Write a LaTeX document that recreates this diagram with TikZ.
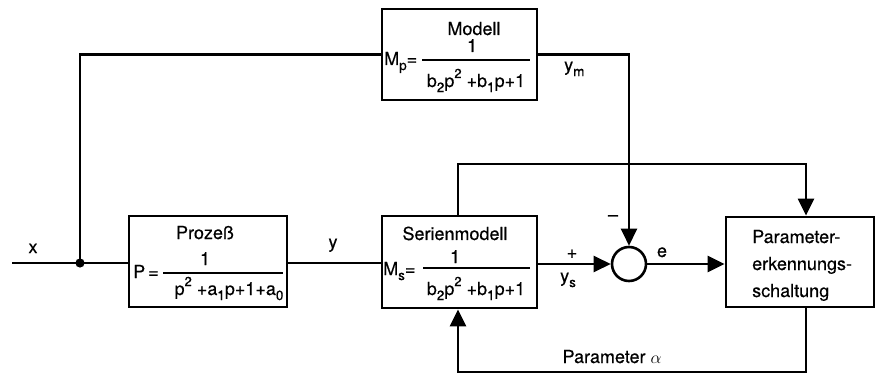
\documentclass[tikz,border=0pt]{standalone}
\usepackage{fontspec}
\setmainfont[FakeBold=0.4]{TeX Gyre Heros}
\usetikzlibrary{arrows.meta}
\newcommand\mysb[1]{\raisebox{-0.28em}{\fontsize{13.5}{13.5}\selectfont #1}}
\newcommand\mysp[1]{\raisebox{0.5em}{\fontsize{13}{13}\selectfont #1}}
\begin{document}
\begin{tikzpicture}[x=1pt,y=-1pt,
  blk/.style={draw,line width=2.8pt,inner sep=0pt},
  wire/.style={line width=2.4pt},
  arr/.style={wire,-{Triangle[length=17pt,width=16pt]}},
  bar/.style={line width=1.4pt},
  txt/.style={inner sep=0pt,font=\fontsize{18}{20}\selectfont},
]
\useasboundingbox (0,0) rectangle (875,374);
% blocks
\node[blk,minimum width=155pt,minimum height=91pt] (modell) at (459.5,54.5) {};
\node[blk,minimum width=158pt,minimum height=91pt] (proz) at (208,261.5) {};
\node[blk,minimum width=155pt,minimum height=92pt] (serien) at (459.5,262) {};
\node[blk,minimum width=148pt,minimum height=90pt] (param) at (800,262) {};
\node[draw,circle,line width=2.6pt,minimum size=34pt,inner sep=0pt] (sum) at (629,264) {};

% Modell contents
\node[txt,anchor=base] (modT) at (474,35) {Modell};
\node[txt,anchor=base west] (modL) at (384,65) {M\mysb{p}=};
\node[txt,anchor=base] (modN) at (472,52) {1};
\node[txt,anchor=base] (modD) at (476,87) {b\mysb{2}p\mysp{2} +b\mysb{1}p+1};
\draw[bar] (422,60) -- (530,60);

% Prozess contents
\node[txt,anchor=base] (proT) at (205,239) {Prozeß};
\node[txt,anchor=base west] (proL) at (133,278) {P\,=};
\node[txt,anchor=base] (proN) at (205,265) {1};
\node[txt,anchor=base] (proD) at (229,295) {p\mysp{2} +a\mysb{1}p+1+a\mysb{0}};
\draw[bar] (163,273) -- (283,273);

% Serienmodell contents
\node[txt,anchor=base] (serT) at (455,240) {Serienmodell};
\node[txt,anchor=base west] (serL) at (383,275) {M\mysb{s}=};
\node[txt,anchor=base] (serN) at (455,263) {1};
\node[txt,anchor=base] (serD) at (476,295) {b\mysb{2}p\mysp{2} +b\mysb{1}p+1};
\draw[bar] (423,268) -- (530,268);

% Parameter box contents
\node[txt,anchor=base west] (parA) at (752,243) {Parameter-};
\node[txt,anchor=base west] (parB) at (752,270) {erkennungs-};
\node[txt,anchor=base west] (parC) at (752,297) {schaltung};

% labels
\node[txt,anchor=base] (lx) at (33,253) {x};
\node[txt,anchor=base] (ly) at (333,248) {y};
\node[txt,anchor=base west] (lym) at (564,71) {y\mysb{m}};
\node[txt] (lplus) at (572,254) {+};
\node[txt,anchor=base west] (lys) at (560,282) {y\mysb{s}};
\node[txt] (lminus) at (613,218) {–};
\node[txt,anchor=base] (le) at (662,257) {e};
\node[txt,anchor=base] (lpar) at (612,363) {Parameter $\alpha$};

% connectors
\coordinate (xin) at (12,263);
\coordinate (j) at (80,263);
\coordinate (t1) at (458,164);
\coordinate (t2) at (806,164);
\coordinate (b1) at (806,372);
\coordinate (b2) at (458,372);
\draw[wire] (xin) -- (xin -| proz.west);
\draw[wire] (j) |- (modell.west);
\fill (j) circle (4.6pt);
\draw[wire] (proz.east |- xin) -- (serien.west |- xin);
\draw[arr] (modell.east) -| (sum.north);
\draw[arr] (serien.east |- sum) -- (sum.west);
\draw[arr] (sum.east) -- (sum.east -| param.west);
\draw[arr] (t1 |- serien.north) -- (t1) -- (t2) -- (t2 |- param.north);
\draw[arr] (b1 |- param.south) -- (b1) -- (b2) -- (b2 |- serien.south);
\end{tikzpicture}
\end{document}
